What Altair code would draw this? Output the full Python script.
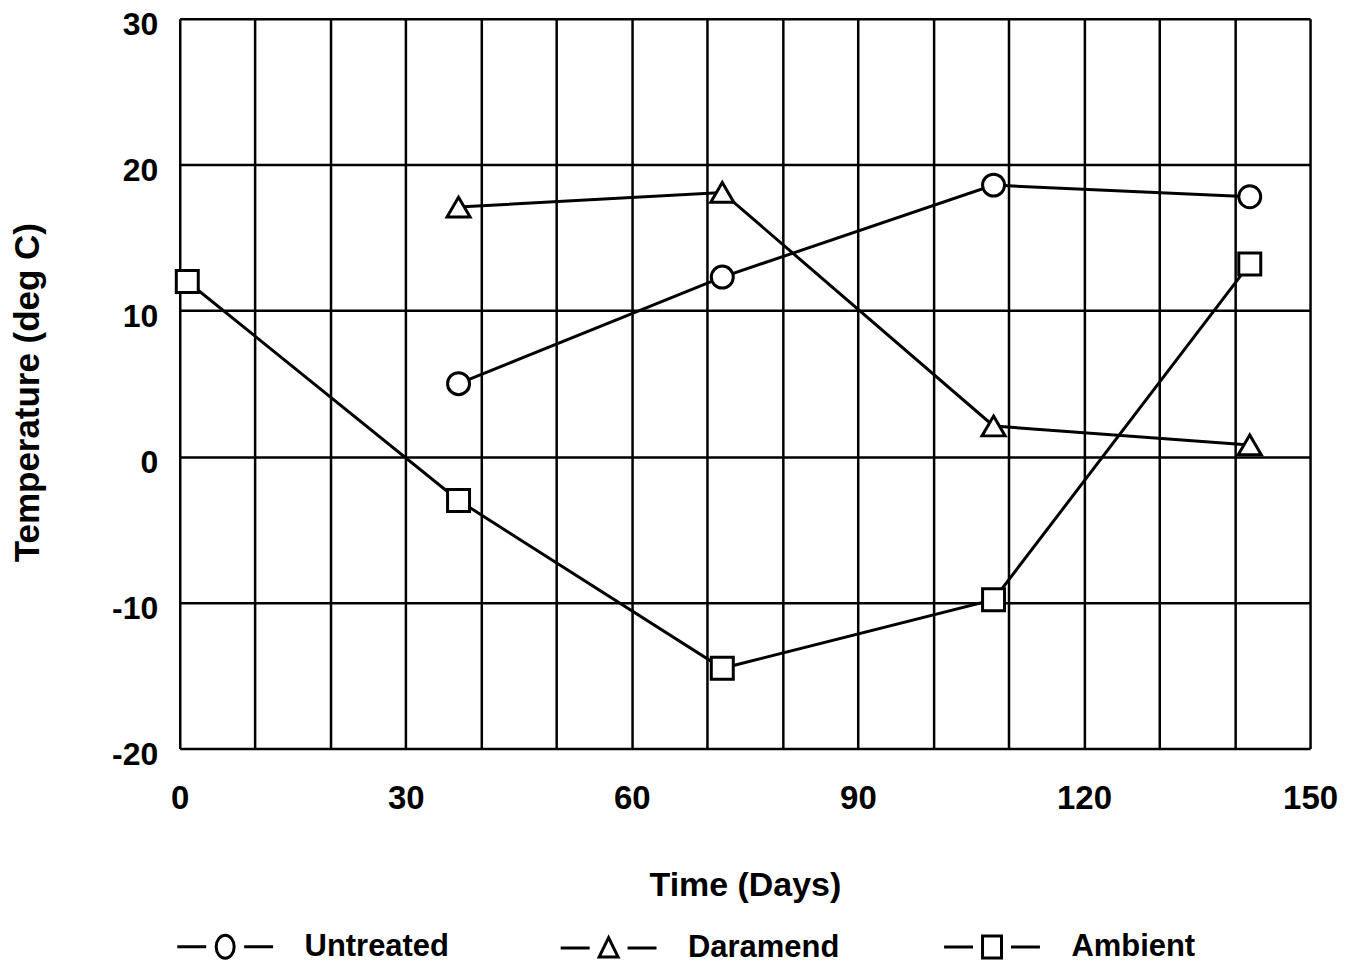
import altair as alt
import pandas as pd

series = ["Untreated", "Daramend", "Ambient"]
days_untreated = [37, 72, 108, 142]
temp_untreated = [5.0, 12.3, 18.6, 17.8]
days_daramend = [37, 72, 108, 142]
temp_daramend = [17.1, 18.1, 2.1, 0.8]
days_ambient = [1, 37, 72, 108, 142]
temp_ambient = [12.0, -3.0, -14.5, -9.8, 13.2]

x_ticks = list(range(0, 151, 10))
y_ticks = [-20, -10, 0, 10, 20, 30]

rows = []
for name, ds, ts in [("Untreated", days_untreated, temp_untreated),
                     ("Daramend", days_daramend, temp_daramend),
                     ("Ambient", days_ambient, temp_ambient)]:
    for d, t in zip(ds, ts):
        rows.append({"series": name, "day": d, "temp": t})
df = pd.DataFrame(rows)

FONT = "Liberation Sans"

# marker shapes (Vega custom paths live in a -1..1 box)
circle_p = "M1,0A1,1,0,1,1,-1,0A1,1,0,1,1,1,0Z"
tri_p = "M0,-0.9L1.05,0.9L-1.05,0.9Z"
sq_p = "M-1,-1H1V1H-1Z"
dash = "M-4.8,0H-1.9M1.9,0H4.8"
leg_circle = dash + "M0.9,0A0.9,1.15,0,1,1,-0.9,0A0.9,1.15,0,1,1,0.9,0Z"
leg_tri = dash + "M0,-1.05L0.95,0.9L-0.95,0.9Z"
leg_sq = dash + "M-0.95,-1.1H0.95V1.1H-0.95Z"

x_enc = alt.X(
    "day:Q",
    scale=alt.Scale(domain=[0, 150], nice=False),
    axis=alt.Axis(
        values=x_ticks,
        labelExpr="datum.value % 30 === 0 ? datum.label : ''",
        title="Time (Days)",
        grid=True, gridColor="black", gridWidth=2.5, gridOpacity=1,
        domain=False, ticks=False, tickSize=0,
        labelFont=FONT, labelFontSize=33, labelFontWeight="bold", labelColor="black",
        labelPadding=34, labelBaseline="top", labelFlush=False, labelOverlap=False,
        titleFont=FONT, titleFontSize=34, titleFontWeight="bold", titleColor="black",
        titleBaseline="middle", titleY=137,
    ),
)
y_enc = alt.Y(
    "temp:Q",
    scale=alt.Scale(domain=[-20, 30], nice=False),
    axis=alt.Axis(
        values=y_ticks,
        labelExpr="'' + datum.value",
        title="Temperature (deg C)",
        grid=True, gridColor="black", gridWidth=2.5, gridOpacity=1,
        domain=False, ticks=False, tickSize=0,
        labelFont=FONT, labelFontSize=32, labelFontWeight="bold", labelColor="black",
        labelPadding=22, labelBaseline="middle", labelOffset=6, labelFlush=False,
        titleFont=FONT, titleFontSize=35, titleFontWeight="bold", titleColor="black",
        titleBaseline="middle", titleX=-152, titleY=374,
    ),
)

lines = alt.Chart(df).mark_line(color="black", strokeWidth=3).encode(
    x=x_enc, y=y_enc, detail="series:N", order="day:Q"
)

points = alt.Chart(df).mark_point(
    filled=True, fill="white", stroke="black", strokeWidth=3, opacity=1, size=484
).encode(
    x="day:Q",
    y="temp:Q",
    shape=alt.Shape(
        "series:N",
        scale=alt.Scale(domain=series, range=[circle_p, tri_p, sq_p]),
        legend=None,
    ),
)

legend_layer = alt.Chart(df).mark_point(
    filled=False, color="black", strokeWidth=3, opacity=1, clip=True
).encode(
    x="day:Q",
    y=alt.value(-2000),
    shape=alt.Shape(
        "series:N",
        scale=alt.Scale(domain=series, range=[leg_circle, leg_tri, leg_sq]),
        legend=alt.Legend(
            title=None,
            orient="none",
            legendX=30,
            legendY=914,
            direction="horizontal",
            columns=3,
            gridAlign="all",
            columnPadding=98,
            padding=0,
            symbolSize=400,
            symbolStrokeWidth=3,
            symbolStrokeColor="black",
            symbolOpacity=1,
            labelOffset=64,
            labelFont=FONT,
            labelFontSize=31,
            labelFontWeight="bold",
            labelColor="black",
            labelLimit=400,
        ),
    ),
)

chart = (
    alt.layer(lines, points, legend_layer)
    .resolve_scale(shape="independent")
    .resolve_legend(shape="independent")
    .properties(
        width=1132,
        height=731,
        autosize=alt.AutoSizeParams(type="none"),
        padding={"left": 172, "top": 10, "right": 28, "bottom": 215},
    )
    .configure_view(stroke="black", strokeWidth=3)
    .configure(background="white")
)

chart.save("out.html", embed_options={"renderer": "svg", "actions": False})
